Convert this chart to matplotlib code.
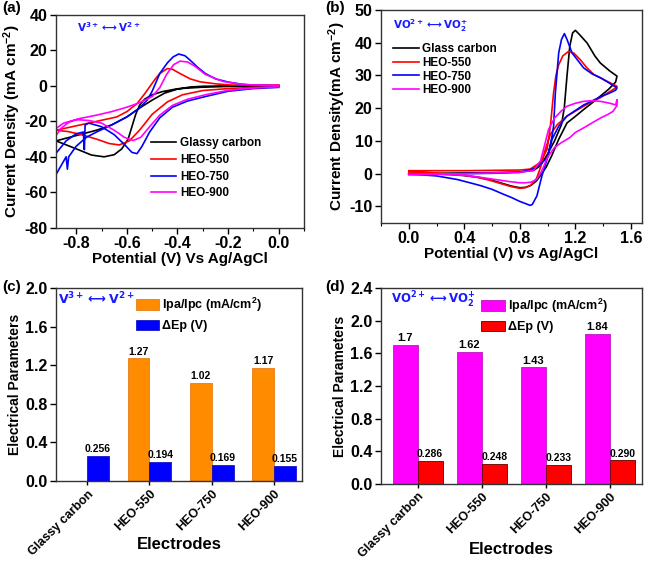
import numpy as np
import matplotlib
matplotlib.use("Agg")
import matplotlib.pyplot as plt
from matplotlib.ticker import MultipleLocator, FormatStrFormatter

plt.rcParams['font.family'] = ['Liberation Sans', 'DejaVu Sans']
plt.rcParams['font.weight'] = 'bold'
plt.rcParams['axes.labelweight'] = 'bold'
plt.rcParams['axes.unicode_minus'] = False
plt.rcParams['mathtext.fontset'] = 'custom'
plt.rcParams['mathtext.rm'] = 'Liberation Sans:bold'
plt.rcParams['mathtext.bf'] = 'Liberation Sans:bold'
plt.rcParams['mathtext.default'] = 'rm'

# ---- (a) V3+/V2+ CV curves, cathodic sweep then anodic sweep ----
gc_a_v = [0.0, -0.1, -0.2, -0.3, -0.4, -0.46, -0.5, -0.53, -0.55, -0.565, -0.58, -0.595, -0.62, -0.65, -0.69, -0.74, -0.80, -0.88,
          -0.80, -0.72, -0.66, -0.60, -0.55, -0.50, -0.45, -0.40, -0.35, -0.30, -0.2, -0.1, 0.0]
gc_a_i = [0.0, -0.1, -0.3, -0.7, -1.6, -3.2, -5.0, -7.5, -11, -16, -23, -30, -35.5, -38.8, -40, -39, -35.5, -31,
          -28, -25, -22, -17.5, -12.5, -8.0, -4.0, -1.8, -0.6, -0.2, 0.0, 0.1, 0.2]

h550_a_v = [0.0, -0.1, -0.2, -0.3, -0.38, -0.44, -0.50, -0.55, -0.59, -0.63, -0.67, -0.72, -0.78, -0.83, -0.88,
            -0.80, -0.72, -0.64, -0.60, -0.56, -0.53, -0.51, -0.49, -0.47, -0.44, -0.42, -0.39, -0.35, -0.31, -0.25, -0.19, -0.1, 0.0]
h550_a_i = [-0.2, -0.8, -1.5, -2.6, -5, -9, -16, -25, -31, -33.3, -32.5, -30, -27.5, -25.8, -25,
            -22.5, -20, -17.5, -14.5, -10, -4.5, -0.5, 3.5, 7, 9.8, 9.4, 7, 4, 2.3, 1.2, 0.5, 0.4, 0.5]

h750_a_v = [0.0, -0.1, -0.2, -0.29, -0.36, -0.42, -0.47, -0.51, -0.54, -0.56, -0.58, -0.61, -0.65, -0.70, -0.75, -0.765, -0.768, -0.772, -0.80, -0.84, -0.88,
            -0.88, -0.86, -0.84, -0.835, -0.83, -0.80, -0.76, -0.72, -0.66, -0.60, -0.55, -0.52, -0.50, -0.47, -0.44, -0.417, -0.395, -0.37, -0.35, -0.32, -0.29, -0.25, -0.2, -0.15, -0.1, 0.0]
h750_a_i = [-0.8, -1.5, -3, -6, -8.5, -12, -18, -26, -34, -38.2, -37.5, -33, -27.5, -23, -21, -22, -36, -26, -27, -31, -38,
            -50, -45, -40, -47, -40, -34, -29, -26, -22, -17.5, -12.5, -8, -3, 7, 13, 16.4, 18, 17, 14.5, 10.5, 7, 4, 2.2, 1.0, 0.4, 0.0]

h900_a_v = [0.0, -0.1, -0.2, -0.29, -0.36, -0.42, -0.47, -0.51, -0.545, -0.575, -0.61, -0.65, -0.70, -0.75, -0.80, -0.85, -0.88,
            -0.88, -0.86, -0.83, -0.79, -0.72, -0.66, -0.60, -0.55, -0.50, -0.47, -0.443, -0.415, -0.39, -0.36, -0.33, -0.29, -0.22, -0.15, -0.1, 0.0]
h900_a_i = [-0.5, -1.2, -2.5, -5, -7.5, -11, -16.5, -23, -29, -30.8, -29, -25, -21, -19.5, -19, -21, -24,
            -28, -24, -20.5, -18.5, -16.5, -14.5, -12, -9.5, -6, -1, 6.5, 12, 14, 13.5, 11, 6.5, 2.5, 1.0, 0.5, 0.3]

# ---- (b) VO2+/VO2+ CV curves, anodic sweep then cathodic sweep ----
gc_b_v = [0.0, 0.2, 0.4, 0.6, 0.8, 0.9, 0.95, 1.0, 1.05, 1.1, 1.12, 1.14, 1.16, 1.18, 1.2, 1.23, 1.285, 1.34, 1.38, 1.45, 1.5,
          1.49, 1.44, 1.38, 1.32, 1.26, 1.2, 1.14, 1.08, 1.03, 0.99, 0.95, 0.92, 0.88, 0.84, 0.80, 0.74, 0.66, 0.58, 0.5, 0.4, 0.3, 0.2, 0.1, 0.0]
gc_b_i = [0.0, 0.1, 0.2, 0.3, 0.5, 1.0, 2.5, 6, 10, 15, 20, 30, 39, 43, 43.8, 42.5, 39.9, 36, 33.8, 31.3, 29.8,
          28, 25.8, 23.7, 21.6, 19.6, 17.5, 15.5, 10.5, 5.5, 2, -0.5, -2.2, -3.6, -4.2, -4.3, -3.8, -2.8, -1.8, -1.1, -0.6, -0.3, -0.1, 0, 0]

h550_b_v = [0.0, 0.2, 0.4, 0.6, 0.8, 0.875, 0.947, 0.996, 1.02, 1.043, 1.06, 1.08, 1.11, 1.152, 1.19, 1.236, 1.28, 1.333, 1.43, 1.5,
            1.49, 1.43, 1.38, 1.32, 1.26, 1.2, 1.14, 1.07, 1.02, 0.98, 0.95, 0.92, 0.88, 0.84, 0.80, 0.74, 0.66, 0.58, 0.5, 0.4, 0.3, 0.2, 0.1, 0.0]
h550_b_i = [0.9, 0.9, 0.9, 1.0, 1.1, 1.4, 3.4, 7.4, 14.5, 24.7, 30, 33.3, 36, 37.4, 36.8, 34.8, 32.5, 30.3, 28.2, 26.7,
            26.2, 24.6, 23.2, 22, 20.6, 19.1, 17.6, 15, 12, 7, 2, -1.5, -3.5, -4.3, -4.5, -4.0, -3.0, -2.0, -1.2, -0.5, -0.1, 0.2, 0.4, 0.5]

h750_b_v = [0.0, 0.2, 0.4, 0.6, 0.8, 0.9, 0.95, 1.0, 1.03, 1.043, 1.056, 1.08, 1.10, 1.121, 1.14, 1.176, 1.22, 1.26, 1.32, 1.381, 1.44, 1.5,
            1.49, 1.44, 1.381, 1.32, 1.26, 1.2, 1.14, 1.08, 1.032, 0.996, 0.959, 0.923, 0.89, 0.875, 0.85, 0.8, 0.74, 0.682, 0.6, 0.52, 0.441, 0.35, 0.2, 0.1, 0.0]
h750_b_i = [-0.2, -0.1, 0.0, 0.1, 0.4, 1.5, 3, 5, 11, 14.5, 24.7, 36.9, 41, 42.8, 41, 36.9, 34.5, 32.3, 30.5, 29.3, 27.8, 26.2,
            25.5, 24.5, 23.5, 22.2, 21, 19.3, 17.6, 14.5, 10.5, 4.4, -0.7, -6.8, -9.4, -9.7, -9.3, -8.5, -7.3, -6.3, -4.8, -3.7, -2.8, -1.8, -0.7, -0.4, -0.2]

h900_b_v = [0.0, 0.2, 0.4, 0.6, 0.8, 0.9, 0.95, 0.98, 1.007, 1.05, 1.1, 1.14, 1.2, 1.26, 1.32, 1.38, 1.45, 1.49, 1.5,
            1.5, 1.47, 1.43, 1.381, 1.32, 1.26, 1.2, 1.16, 1.1, 1.05, 1.0, 0.96, 0.92, 0.88, 0.84, 0.80, 0.72, 0.64, 0.56, 0.48, 0.4, 0.3, 0.2, 0.1, 0.0]
h900_b_i = [-0.3, -0.2, 0.0, 0.2, 0.4, 1.0, 4, 9, 13.5, 17, 19.2, 20.6, 21.5, 22.1, 22.3, 22.1, 21.5, 21, 22.6,
            20.8, 19, 18, 17, 15.5, 14, 12.6, 11, 9.5, 8, 5, 1, -1.8, -2.6, -2.8, -2.8, -2.4, -1.9, -1.4, -0.9, -0.5, -0.3, -0.2, -0.2, -0.2]

# ---- (c), (d) bar data ----
electrodes = ['Glassy carbon', 'HEO-550', 'HEO-750', 'HEO-900']
c_ipa = [np.nan, 1.27, 1.02, 1.17]
c_ipa_txt = ['', '1.27', '1.02', '1.17']
c_dep = [0.256, 0.194, 0.169, 0.155]
c_dep_txt = ['0.256', '0.194', '0.169', '0.155']
d_ipa = [1.7, 1.62, 1.43, 1.84]
d_ipa_txt = ['1.7', '1.62', '1.43', '1.84']
d_dep = [0.286, 0.248, 0.233, 0.290]
d_dep_txt = ['0.286', '0.248', '0.233', '0.290']

cv_names = ['Glassy carbon', 'HEO-550', 'HEO-750', 'HEO-900']
cv_names_b = ['Glass carbon', 'HEO-550', 'HEO-750', 'HEO-900']
cv_colors = ['black', '#FF0000', '#0000FF', '#FF00FF']

v_couple = r'$\mathbf{V^{3+}}\longleftrightarrow\mathbf{V^{2+}}$'
vo_couple = r'$\mathbf{VO^{2+}}\longleftrightarrow\mathbf{VO_2^{+}}$'

fig = plt.figure(figsize=(6.46, 5.61), dpi=100)
ax_a = fig.add_axes([0.0867, 0.5941, 0.3839, 0.3791])
ax_b = fig.add_axes([0.5898, 0.6030, 0.4040, 0.3791])
ax_c = fig.add_axes([0.0867, 0.1426, 0.3810, 0.3440])
ax_d = fig.add_axes([0.5898, 0.1373, 0.4040, 0.3494])

for ax in (ax_a, ax_b, ax_c, ax_d):
    for s in ax.spines.values():
        s.set_linewidth(1.0)
        s.set_color('#333333')
    ax.tick_params(direction='out', length=4, width=1, labelsize=11.5, pad=2)
    ax.tick_params(which='minor', direction='out', length=2.5, width=0.8)

# (a)
curves_a = [(gc_a_v, gc_a_i), (h550_a_v, h550_a_i), (h750_a_v, h750_a_i), (h900_a_v, h900_a_i)]
for (v, i), name, col in zip(curves_a, cv_names, cv_colors):
    ax_a.plot(v, i, color=col, lw=1.2, label=name)
ax_a.set_xlim(-0.88, 0.1)
ax_a.set_ylim(-80, 40)
ax_a.xaxis.set_major_locator(MultipleLocator(0.2))
ax_a.xaxis.set_minor_locator(MultipleLocator(0.1))
ax_a.xaxis.set_major_formatter(FormatStrFormatter('%.1f'))
ax_a.yaxis.set_major_locator(MultipleLocator(20))
ax_a.set_xlabel('Potential (V) Vs Ag/AgCl', fontsize=11, labelpad=1)
ax_a.set_ylabel('Current Density (mA cm$^{-2}$)', fontsize=11, labelpad=1)
ax_a.legend(loc='upper left', bbox_to_anchor=(0.385, 0.425), frameon=False, fontsize=8.5,
            handlelength=2.1, handletextpad=0.3, labelspacing=0.4, borderpad=0, borderaxespad=0)
ax_a.text(0.085, 0.975, v_couple, transform=ax_a.transAxes, math_fontfamily='dejavusans',
          color='#1a1aff', fontsize=7.5, va='top', ha='left')

# (b)
curves_b = [(gc_b_v, gc_b_i), (h550_b_v, h550_b_i), (h750_b_v, h750_b_i), (h900_b_v, h900_b_i)]
for (v, i), name, col in zip(curves_b, cv_names_b, cv_colors):
    ax_b.plot(v, i, color=col, lw=1.2, label=name)
ax_b.set_xlim(-0.2, 1.68)
ax_b.set_ylim(-15, 50)
ax_b.xaxis.set_major_locator(MultipleLocator(0.4))
ax_b.xaxis.set_minor_locator(MultipleLocator(0.2))
ax_b.xaxis.set_major_formatter(FormatStrFormatter('%.1f'))
ax_b.yaxis.set_major_locator(MultipleLocator(10))
ax_b.set_xlabel('Potential (V) vs Ag/AgCl', fontsize=11, labelpad=1)
ax_b.set_ylabel('Current Density(mA cm$^{-2}$)', fontsize=11, labelpad=1)
ax_b.legend(loc='upper left', bbox_to_anchor=(0.046, 0.845), frameon=False, fontsize=8.5,
            handlelength=2.2, handletextpad=0.25, labelspacing=0.15, borderpad=0, borderaxespad=0)
ax_b.text(0.046, 0.965, vo_couple, transform=ax_b.transAxes, math_fontfamily='dejavusans',
          color='#1a1aff', fontsize=7.5, va='top', ha='left')

# (c) and (d) bars
x = np.arange(len(electrodes))
w = 0.35
ax_c.bar(x - w / 2, c_ipa, w, color='#FF8C00', edgecolor='#E07000', lw=0.5,
         label='Ipa/Ipc (mA/cm$^2$)')
ax_c.bar(x + w / 2, c_dep, w, color='#0000FF', edgecolor='#0000C0', lw=0.5, label='ΔEp (V)')
for xi, val, txt in zip(x - w / 2, c_ipa, c_ipa_txt):
    if txt:
        ax_c.text(xi, val + 0.02, txt, ha='center', va='bottom', fontsize=7.5)
for xi, val, txt in zip(x + w / 2, c_dep, c_dep_txt):
    ax_c.text(xi, val + 0.02, txt, ha='center', va='bottom', fontsize=7.5)
ax_c.set_xlim(-0.5, 3.45)
ax_c.set_ylim(0, 2.0)
ax_c.yaxis.set_major_locator(MultipleLocator(0.4))
ax_c.yaxis.set_major_formatter(FormatStrFormatter('%.1f'))
ax_c.set_ylabel('Electrical Parameters', fontsize=10, labelpad=2)
ax_c.legend(loc='upper left', bbox_to_anchor=(0.325, 0.96), frameon=False, fontsize=9,
            handlelength=1.85, handleheight=0.9, handletextpad=0.25, labelspacing=0.45,
            borderpad=0, borderaxespad=0)
ax_c.text(0.01, 0.985, v_couple, transform=ax_c.transAxes, math_fontfamily='dejavusans',
          color='#1a1aff', fontsize=9, va='top', ha='left')

w2 = 0.39
ax_d.bar(x - w2 / 2, d_ipa, w2, color='#FF00FF', edgecolor='#B000B0', lw=0.5,
         label='Ipa/Ipc (mA/cm$^2$)')
ax_d.bar(x + w2 / 2, d_dep, w2, color='#FF0000', edgecolor='#600000', lw=0.6, label='ΔEp (V)')
for xi, val, txt in zip(x - w2 / 2, d_ipa, d_ipa_txt):
    ax_d.text(xi, val + 0.02, txt, ha='center', va='bottom', fontsize=8)
for xi, val, txt in zip(x + w2 / 2, d_dep, d_dep_txt):
    ax_d.text(xi, val + 0.02, txt, ha='center', va='bottom', fontsize=7.5)
ax_d.set_xlim(-0.57, 3.5)
ax_d.set_ylim(0, 2.4)
ax_d.yaxis.set_major_locator(MultipleLocator(0.4))
ax_d.yaxis.set_major_formatter(FormatStrFormatter('%.1f'))
ax_d.set_ylabel('Electrical Parameters', fontsize=10, labelpad=2)
ax_d.legend(loc='upper left', bbox_to_anchor=(0.385, 0.955), frameon=False, fontsize=9,
            handlelength=1.85, handleheight=0.9, handletextpad=0.25, labelspacing=0.45,
            borderpad=0, borderaxespad=0)
ax_d.text(0.04, 0.99, vo_couple, transform=ax_d.transAxes, math_fontfamily='dejavusans',
          color='#1a1aff', fontsize=8.5, va='top', ha='left')

for ax, ly in ((ax_c, -0.33), (ax_d, -0.335)):
    ax.set_xticks(x)
    ax.set_xticklabels(electrodes, rotation=45, ha='right', rotation_mode='anchor', fontsize=9)
    ax.tick_params(axis='x', length=3)
    ax.set_xlabel('Electrodes', fontsize=12)
    ax.xaxis.set_label_coords(0.5, ly)
    ax.xaxis.label.set_va('center')

for lab, fx, fy in [('(a)', 0.003, 0.998), ('(b)', 0.503, 0.998), ('(c)', 0.003, 0.5), ('(d)', 0.503, 0.5)]:
    fig.text(fx, fy, lab, fontsize=11, va='top', ha='left')

fig.savefig('out.png', dpi=100)
